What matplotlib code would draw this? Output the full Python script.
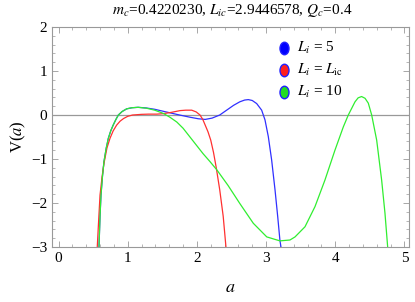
import numpy as np
import matplotlib
matplotlib.use('Agg')
import matplotlib.pyplot as plt
from matplotlib.ticker import MultipleLocator
from matplotlib.path import Path
from matplotlib.transforms import Affine2D

plt.rcParams['font.family'] = 'Liberation Serif'
plt.rcParams['mathtext.fontset'] = 'stix'

# datos
a_azul = [0.585, 0.6, 0.614, 0.635, 0.657, 0.69, 0.72, 0.755, 0.79, 0.83, 0.865, 0.92, 0.985, 1.06, 1.15, 1.27, 1.39,
          1.5, 1.61, 1.75, 1.90, 2.02, 2.12, 2.22, 2.33, 2.43, 2.53, 2.62, 2.69, 2.743, 2.80, 2.864, 2.936, 2.984, 3.032,
          3.08, 3.129, 3.168, 3.2, 3.215]
V_azul = [-3.0, -2.3, -1.82, -1.4, -1.06, -0.75, -0.53, -0.36, -0.23, -0.1, 0.0, 0.08, 0.14, 0.165, 0.175, 0.16, 0.13,
          0.09, 0.05, 0.0, -0.05, -0.085, -0.1, -0.07, 0.0, 0.11, 0.22, 0.30, 0.34, 0.35, 0.33, 0.26, 0.11, -0.11, -0.49,
          -1.02, -1.7, -2.31, -2.85, -3.0]

a_rojo = [0.56, 0.58, 0.6, 0.63, 0.657, 0.7, 0.744, 0.79, 0.84, 0.89, 0.94, 1.0, 1.07, 1.2, 1.3, 1.42, 1.51, 1.63,
          1.756, 1.84, 1.925, 1.99, 2.045, 2.085, 2.12, 2.16, 2.20, 2.24, 2.28, 2.33, 2.38, 2.42]
V_rojo = [-3.0, -2.4, -1.82, -1.4, -1.1, -0.75, -0.53, -0.36, -0.23, -0.14, -0.08, -0.03, 0.0, 0.015, 0.02, 0.02, 0.03,
          0.06, 0.1, 0.11, 0.11, 0.07, 0.0, -0.1, -0.23, -0.38, -0.57, -0.85, -1.2, -1.7, -2.3, -3.0]

a_verde = [0.585, 0.6, 0.614, 0.635, 0.657, 0.69, 0.72, 0.755, 0.79, 0.83, 0.865, 0.92, 0.985, 1.06, 1.15, 1.27, 1.39,
           1.51, 1.61, 1.71, 1.80, 1.90, 2.0, 2.09, 2.19, 2.29, 2.45, 2.62, 2.815, 3.01, 3.2, 3.345, 3.418, 3.562, 3.707,
           3.85, 3.995, 4.116, 4.188, 4.285, 4.33, 4.38, 4.43, 4.477, 4.526, 4.598, 4.67, 4.718, 4.757]
V_verde = [-3.0, -2.3, -1.82, -1.4, -1.06, -0.75, -0.53, -0.36, -0.23, -0.1, 0.0, 0.08, 0.14, 0.165, 0.175, 0.155, 0.11,
           0.04, -0.05, -0.16, -0.3, -0.5, -0.7, -0.88, -1.06, -1.25, -1.6, -2.01, -2.46, -2.77, -2.86, -2.84, -2.77,
           -2.54, -2.08, -1.48, -0.8, -0.27, 0.0, 0.30, 0.39, 0.42, 0.38, 0.27, 0.0, -0.57, -1.48, -2.23, -3.0]

etiquetas = [r'$L_i$ = 5', r'$L_i$ = $L_{\mathrm{ic}}$', r'$L_i$ = 10']
colores_relleno = ['#0000ff', '#ff2020', '#22dd22']
colores_linea = ['#3030ff', '#ff3030', '#30ee30']

fig = plt.figure(figsize=(4.15, 3.02), dpi=100)
ax = fig.add_axes([0.1253, 0.182, 0.8602, 0.7286])

ax.axhline(0, color='#999999', lw=0.9, zorder=1)
ax.plot(a_azul, V_azul, color=colores_linea[0], lw=0.9)
ax.plot(a_rojo, V_rojo, color=colores_linea[1], lw=0.9)
ax.plot(a_verde, V_verde, color=colores_linea[2], lw=0.9)

ax.set_xlim(-0.094, 5.065)
ax.set_ylim(-3, 2)

# marco tipo Mathematica
for s in ax.spines.values():
    s.set_color('#999999')
    s.set_linewidth(0.8)
ax.xaxis.set_major_locator(MultipleLocator(1))
ax.xaxis.set_minor_locator(MultipleLocator(0.2))
ax.yaxis.set_minor_locator(MultipleLocator(0.2))
ax.set_yticks([-3, -2, -1, 0, 1, 2])
ax.set_yticklabels(['\u22123', '\u22122', '\u22121', '0', '1', '2'])
ax.tick_params(which='both', direction='in', top=True, right=True, color='#999999', labelsize=11)
ax.tick_params(which='major', length=4, width=0.6)
ax.tick_params(which='minor', length=2, width=0.5)

ax.set_xlabel(r'$a$', fontsize=13, labelpad=10)
ax.set_ylabel(r'V($a$)', fontsize=12, labelpad=2)
fig.text(0.56, 0.965, r'$m_c$=0.4220230, $L_{ic}$=2.9446578, $Q_c$=0.4', ha='center', va='center', fontsize=11)

# leyenda manual con marcadores elipticos
elipse = Path.unit_circle().transformed(Affine2D().scale(0.72, 1.0))
for i in range(3):
    yy = 1.52 - i * 0.5
    ax.plot([3.265], [yy], marker=elipse, ms=9, mfc=colores_relleno[i], mec='#2020ff', mew=1.0, linestyle='none')
    ax.text(3.45, yy, etiquetas[i], fontsize=11, va='center', ha='left')

fig.savefig('out.png', dpi=100)
